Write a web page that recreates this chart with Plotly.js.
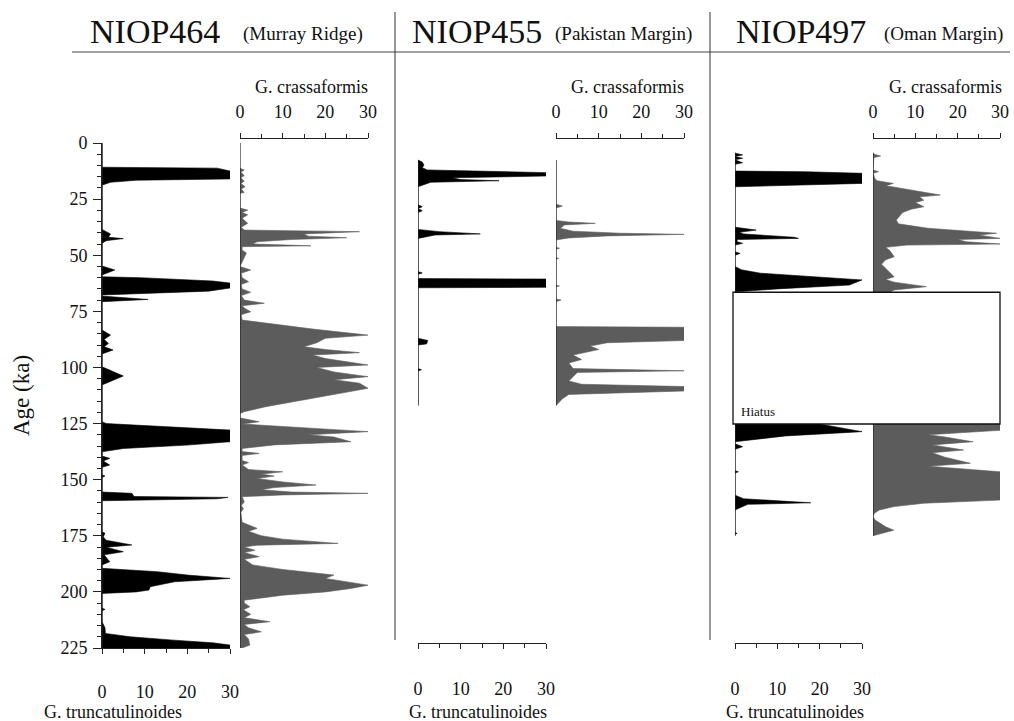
<!DOCTYPE html>
<html>
<head>
<meta charset="utf-8">
<script src="https://cdn.plot.ly/plotly-3.0.1.min.js"></script>
<style>html,body{margin:0;padding:0;background:#fff}#chart{width:1014px;height:721px}</style>
</head>
<body>
<div id="chart"></div>
<script>
// ---------------- DATA ----------------
const coreNames = ["NIOP464", "NIOP455", "NIOP497"];
const coreSites = ["(Murray Ridge)", "(Pakistan Margin)", "(Oman Margin)"];
const speciesTop = "G. crassaformis";
const speciesBottom = "G. truncatulinoides";
const yAxisTitle = "Age (ka)";
const ageTicks = [0, 25, 50, 75, 100, 125, 150, 175, 200, 225];
const pctTicks = [0, 10, 20, 30];
const coreTop = [0, 7.6, 4.3];
const coreBottom = [225, 117, 175];
const hiatus497 = [66.5, 125.2];
const hiatusLabel = "Hiatus";

// NIOP464 G. truncatulinoides
const age464T = [0,10.8,11.2,12.5,16,16.6,17.5,18.8,38.5,40.5,42,42.6,43.5,44.7,54.8,56.6,58.8,59.6,60,61.5,62.4,64.6,66,67.7,68.2,69.7,70.7,83.3,85.6,87.5,89.3,90.8,92.2,94,99.7,103.8,107.8,124.2,125,127.1,127.9,133.1,134.6,136.1,137.6,139.5,140.5,141.7,143.5,144.5,147.8,148.4,149,155.5,156.1,157.5,157.9,158.5,159.4,173.2,173.9,175.5,177,179.1,180.1,182.1,183.5,186.6,188,189.5,191,192.5,194,195.5,197.7,199.2,200,200.7,207.2,207.8,208.4,213.3,216,218.5,220,221.5,222.7,223.7,225];
const val464T = [0,0,27,30,30,8,2,0,0,2,1.5,5,1,0,0,3,0,0,9,26,30,30,25,0,0,10.8,0,0,2,0.5,1.5,0.5,2.6,0,0,5,0,0,1,20,30,30,20,5,0,0,1.8,0.3,1.8,0,0,0.7,0,0,7,7.5,29.5,27,0,0,0.7,0.3,1,7,1,5,0.5,1.8,0,0,13,20,30,17,11.3,11,8,0,0,0.7,0,0,0.7,0.8,6.6,16.8,26,30,30];

// NIOP464 G. crassaformis
const age464C = [11.3,12,13,14.5,15.5,17,18,19.5,20.5,22,22.4,29,29.9,31,32,33.5,35.8,37.5,38.8,39,39.5,40.5,41.5,42.2,43,44,45,45.8,46.2,47.7,49,51,53.5,55,56.6,58,60,61.8,63,65,66.5,68,70,71.4,72.5,73.5,75.2,76.5,78.9,81,83,85.6,87,89,90.8,92,93.4,94.5,96,98.9,100,102,104.1,105.5,107,109.3,112,115,117.5,119.7,120.5,122.5,124.2,125.2,126,128.6,130,131,133.1,134.5,136.1,137.5,138.3,139.2,141.5,142.4,143.5,145.5,146.5,147.5,148.4,149.5,151,152.4,153.5,154.5,155.5,156.1,156.8,157.6,160,161.5,163,164.5,169,171.7,173,175,176.5,178.4,179.2,180,181.5,182.5,184.3,185.5,188,190,192.5,194,197,198.5,200,201.5,203.7,205,206.6,208,210,211.5,213.3,214.5,216,217.8,219,221,223.7,225];
const val464C = [0,1,0.2,1,0.2,1,0.2,1.2,0.3,1,0,0,1.8,0.5,1.8,0.5,1.8,0.3,1,11,28,15,16,25,12,4,3,16.6,0.5,0.5,1.5,1,0.3,0,2.5,0.3,0.5,2,0.3,0.5,2.5,0.3,1,5.7,0.5,1,2.5,0.3,0.5,9,17.5,30,20,18,15,20,28,17,20,30,18,22,30,22,28,30,22,13,6,1,0,0,4.5,0.5,8,30,16,22,26,8,0.5,0.5,4.5,0.5,0.5,2,0.5,2,10,5,8,4,10,17.8,8,5,12,30,10,0.5,1,0.3,0.8,0.2,0.5,4,2,5,10,23,4,1,3.5,1,4.5,1,3,10,22,20,30,26,20,10,1,1,2.3,0.8,2.5,1,7,1,2,5,1,2,2.3,0.5];

// NIOP455 G. truncatulinoides
const age455T = [7.6,8.5,9.8,11,12,13.2,14.7,15.5,16.3,16.8,17.5,18.5,19.5,27.5,28.4,29.2,30.2,31,38.5,39.5,40.5,41,42.5,57.3,57.9,58.5,60.4,60.6,64.3,64.5,87,88,89.5,90,100.5,101,101.6,117];
const val455T = [0,1,1.4,1,2.2,30,30,8,10,19,3,1.4,0,0,1,0,1,0,0,5,14.6,4,0,0,1,0,0,30,30,0,0,2.3,2,0,0,0.8,0,0];

// NIOP455 G. crassaformis
const age455C = [7.6,27.3,28.1,29,34.5,35.2,35.8,36.5,38,39.3,40.2,40.7,41.4,42.3,43.2,46.5,46.9,47.3,51,51.4,51.8,63.3,63.7,64.1,69.5,70,70.7,81.8,82.1,88,89,90.5,92,94.5,96.5,98,100.5,101.5,102.2,104,106,107.5,108.5,110.5,112,114,116,117];
const val455C = [0,0,1.5,0,0,3,9.2,2,1,4,15,30,12,3,0,0,0.8,0,0,0.6,0,0,0.8,0,0,1.2,0,0,30,30,12,8,10,4,6,3,4,30,5,4,3,6,30,30,3,1.5,0.5,0];

// NIOP497 G. truncatulinoides
const age497T = [4.5,5.3,6,6.8,7.5,8.8,9.5,12.5,12.8,13.5,18,19.5,37.5,38.8,39.8,40.5,42,42.5,43,44,44.7,45.5,48.5,49.2,50,55,56.5,58,58.8,60,61,63.3,65,66.3,66.5,125.2,128.6,130.5,132.5,133.1,134,135.3,136.5,146,146.5,147,156.9,158.5,160.3,161,163.5,173.5,173.9,174.3,175];
const val497T = [0,1.8,0,1.8,0,1.8,0,0,16.7,30,30,0,0,5,1,2,14,15,0.5,0.5,1.8,0,0,1.2,0,0,1.5,6,12.4,21,30,27,10,0.5,0,20,30,12,3,0,0,1.8,0,0,0.8,0,0,2,17.9,3,0,0,0.5,0,0];

// NIOP497 G. crassaformis
const age497C = [4.3,5,5.8,6.5,12,12.8,13.5,16,16.8,18,19,20.5,23.2,24,25.5,26.5,28.4,29.5,31,34.3,36,38,40.2,41,42.5,43,44,45,45.5,46.5,48,50.7,52,54,56,59.6,60.8,62,64,65.5,66.5,125.2,128,130,131,133.1,134.5,136.8,138,140,142.7,144,146.5,159.1,160.5,162,163.5,165,166.5,168,171,172.5,174,174.7,175];
const val497C = [0,0.3,1.8,0.2,0,1.3,0,0.5,1,4.8,3,8,15.9,11,12,10,12,9,7,5.5,6,13,29.2,25,30,20,22,30,8,3,4,5,3,2,3,5,3,5,12.6,5,4,30,30,13,17,23.6,14,21.4,14,17,23,13,30,30,12,5,1.5,0.3,0,0.5,3,4.9,2,0,0];

// ---------------- LAYOUT HELPERS ----------------
const W = 1014, H = 721;
const px = v => v / W;
const py = v => 1 - v / H;
const FONT = "Liberation Serif, Times New Roman, serif";
const BLACK = "#000000";
const GRAY = "#5c5c5c";

const series = [
  {ages: age464T, vals: val464T, ax: "x",  color: BLACK},
  {ages: age464C, vals: val464C, ax: "x2", color: GRAY},
  {ages: age455T, vals: val455T, ax: "x3", color: BLACK},
  {ages: age455C, vals: val455C, ax: "x4", color: GRAY},
  {ages: age497T, vals: val497T, ax: "x5", color: BLACK},
  {ages: age497C, vals: val497C, ax: "x6", color: GRAY}
];

const traces = [];
series.forEach((s, i) => {
  traces.push({
    type: "scatter", mode: "lines", x: s.vals, y: s.ages,
    xaxis: s.ax, yaxis: "y", fill: "tozerox", fillcolor: s.color,
    line: {color: s.color, width: 0.6}, hoverinfo: "skip", showlegend: false
  });
  const c = Math.floor(i / 2);
  traces.push({
    type: "scatter", mode: "lines", x: [0, 0], y: [coreTop[c], coreBottom[c]],
    xaxis: s.ax, yaxis: "y", line: {color: "#222", width: 1.2},
    hoverinfo: "skip", showlegend: false
  });
});

const tickFont = {family: FONT, size: 18, color: "#111"};
function xAx(left, right, opts) {
  return Object.assign({
    domain: [px(left), px(right)], range: [0, 30], fixedrange: true,
    tickvals: pctTicks, ticktext: pctTicks.map(String), ticks: "outside",
    ticklen: 5, tickwidth: 1, tickcolor: "#222",
    minor: {tickvals: [5, 15, 25], ticks: "outside", ticklen: 4, tickcolor: "#222"},
    showline: true, linecolor: "#222", linewidth: 1, showgrid: false, zeroline: false,
    tickfont: tickFont
  }, opts);
}
const TOP = py(138), BOT = py(643);

const layout = {
  width: W, height: H, margin: {l: 0, r: 0, t: 0, b: 0},
  paper_bgcolor: "#fff", plot_bgcolor: "rgba(0,0,0,0)", showlegend: false,
  font: {family: FONT, color: "#111"},
  yaxis: {
    domain: [py(648), py(143)], range: [225, 0], anchor: "x", fixedrange: true,
    tickvals: ageTicks, ticks: "outside", ticklen: 8, tickcolor: "#222",
    minor: {dtick: 5, ticks: "outside", ticklen: 4, tickcolor: "#222"},
    showline: true, linecolor: "#222", linewidth: 1, showgrid: false, zeroline: false,
    tickfont: tickFont, ticklabelstandoff: 2,
    title: {text: yAxisTitle, font: {family: FONT, size: 23, color: "#111"}, standoff: 24}
  },
  xaxis:  xAx(102, 230, {anchor: "y", side: "bottom", ticklabelstandoff: 22}),
  xaxis2: xAx(240, 368, {anchor: "free", position: TOP, side: "top", ticklabelstandoff: 8}),
  xaxis3: xAx(418, 546, {anchor: "free", position: BOT, side: "bottom", ticklabelstandoff: 24}),
  xaxis4: xAx(556, 684, {anchor: "free", position: TOP, side: "top", ticklabelstandoff: 8}),
  xaxis5: xAx(735, 862, {anchor: "free", position: BOT, side: "bottom", ticklabelstandoff: 24}),
  xaxis6: xAx(873, 1000, {anchor: "free", position: TOP, side: "top", ticklabelstandoff: 8}),
  shapes: [
    {type: "line", xref: "paper", yref: "paper", x0: px(72), x1: px(1010), y0: py(52), y1: py(52), line: {color: "#444", width: 1}},
    {type: "line", xref: "paper", yref: "paper", x0: px(395), x1: px(395), y0: py(12), y1: py(640), line: {color: "#333", width: 1}},
    {type: "line", xref: "paper", yref: "paper", x0: px(710), x1: px(710), y0: py(12), y1: py(640), line: {color: "#333", width: 1}},
    {type: "rect", xref: "paper", yref: "y", x0: px(733), x1: px(1000), y0: hiatus497[0], y1: hiatus497[1],
     fillcolor: "#fff", line: {color: "#111", width: 1.3}, layer: "above"}
  ],
  annotations: []
};

const titleX = [155, 477, 801];
const siteX = [303, 623, 943];
const topLabX = [311, 627, 945];
const botLabX = [113, 478, 795];
for (let i = 0; i < 3; i++) {
  layout.annotations.push({xref: "paper", yref: "paper", x: px(titleX[i]), y: py(32), text: coreNames[i],
    showarrow: false, xanchor: "center", yanchor: "middle", font: {family: FONT, size: 34, color: "#111"}});
  layout.annotations.push({xref: "paper", yref: "paper", x: px(siteX[i]), y: py(34), text: coreSites[i],
    showarrow: false, xanchor: "center", yanchor: "middle", font: {family: FONT, size: 19, color: "#111"}});
  layout.annotations.push({xref: "paper", yref: "paper", x: px(topLabX[i]), y: py(87), text: speciesTop,
    showarrow: false, xanchor: "center", yanchor: "middle", font: {family: FONT, size: 18, color: "#111"}});
  layout.annotations.push({xref: "paper", yref: "paper", x: px(botLabX[i]), y: py(712), text: speciesBottom,
    showarrow: false, xanchor: "center", yanchor: "middle", font: {family: FONT, size: 18, color: "#111"}});
}
layout.annotations.push({xref: "paper", yref: "y", x: px(739), y: hiatus497[1], text: hiatusLabel,
  showarrow: false, xanchor: "left", yanchor: "bottom", yshift: 3, font: {family: FONT, size: 13, color: "#111"}});

Plotly.newPlot("chart", traces, layout, {displayModeBar: false, staticPlot: true});
</script>
</body>
</html>
